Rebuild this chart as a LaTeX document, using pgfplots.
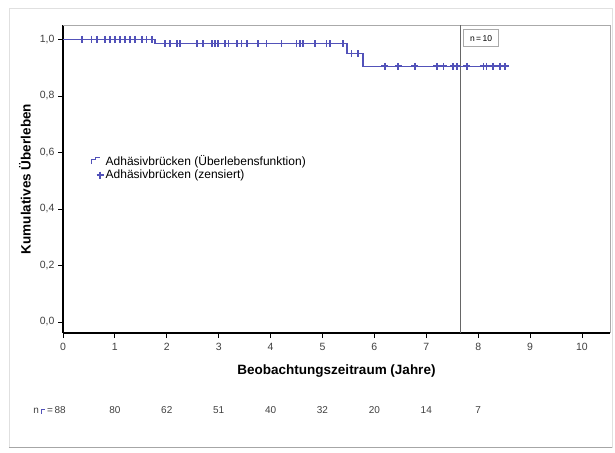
\documentclass[border=0pt]{standalone}
\usepackage{pgfplots}
\pgfplotsset{compat=1.18}
\usepackage{fontspec}
\setmainfont{Liberation Sans}
\definecolor{curve}{RGB}{82,82,185}
\definecolor{frm}{RGB}{170,170,170}
\newcommand{\fs}[1]{\fontsize{#1}{#1}\selectfont}
\begin{document}
\begin{tikzpicture}
\begin{axis}[
  scale only axis,
  width=547pt, height=308pt,
  xmin=0, xmax=10.54,
  ymin=-0.039, ymax=1.051,
  axis lines*=left,
  axis line style={black, line width=1.1pt},
  xtick={0,1,...,10},
  ytick={0,0.2,0.4,0.6,0.8,1.0},
  tick align=outside,
  major tick length=5pt,
  tick style={black, line width=0.8pt},
  tick label style={font=\fs{10.5}, text=black!75},
  /pgf/number format/assume math mode=true,
  yticklabel style={/pgf/number format/.cd, fixed, fixed zerofill, precision=1, use comma},
  xticklabel style={yshift=-2pt},
  xlabel={\bfseries Beobachtungszeitraum (Jahre)},
  ylabel={\bfseries Kumulatives Überleben},
  xlabel style={at={(axis description cs:0.5,-0.123)}, anchor=center, font=\fs{13.5}},
  ylabel style={at={(axis description cs:-0.0695,0.5)}, anchor=center, font=\fs{13.5}},
  clip=false,
  legend style={at={(rel axis cs:0.049,0.587)}, anchor=north west, draw=none, fill=none,
    font=\fs{12}, row sep=-1pt, inner sep=1pt, legend cell align=left},
]
% frame top/right
\addplot[frm, line width=0.6pt, forget plot] coordinates {(0,1.051) (10.54,1.051) (10.54,-0.039)};
% vertical reference line
\addplot[black!60, line width=0.8pt, forget plot] coordinates {(7.65,-0.039) (7.65,1.051)};
\node[draw=frm, line width=0.9pt, fill=white, anchor=north west, font=\fs{8.5}, inner sep=2pt, minimum width=35pt, minimum height=17pt] at (axis cs:7.71,1.036) {n\,=\,10};
% survival function
\addplot[curve, line width=1.5pt, const plot,
  legend image code/.code={\draw[curve, line width=1.3pt] (0pt,-3pt) -- (0pt,2pt) -- (4pt,2pt) -- (4pt,4pt) -- (8pt,4pt);}]
  coordinates {(0,1) (1.77,0.985) (5.47,0.95) (5.78,0.905) (8.55,0.905)};
\addlegendentry{Adhäsivbrücken (Überlebensfunktion)}
% censored
\addplot[curve, only marks, mark=+, mark size=3.5pt, line width=1.7pt]
  coordinates {
  (0.36,1) (0.55,1) (0.65,1) (0.81,1) (0.91,1) (1.0,1) (1.1,1) (1.19,1) (1.29,1) (1.39,1) (1.52,1) (1.61,1) (1.71,1)
  (1.97,0.985) (2.06,0.985) (2.19,0.985) (2.25,0.985) (2.58,0.985) (2.7,0.985) (2.87,0.985) (2.93,0.985) (2.99,0.985)
  (3.12,0.985) (3.19,0.985) (3.35,0.985) (3.44,0.985) (3.54,0.985) (3.76,0.985) (3.92,0.985) (4.21,0.985) (4.5,0.985)
  (4.57,0.985) (4.63,0.985) (4.86,0.985) (5.08,0.985) (5.14,0.985) (5.4,0.985)
  (5.56,0.95) (5.68,0.95)
  (6.2,0.905) (6.46,0.905) (6.78,0.905) (7.2,0.905) (7.33,0.905) (7.52,0.905) (7.59,0.905) (7.78,0.905)
  (8.1,0.905) (8.16,0.905) (8.29,0.905) (8.42,0.905) (8.52,0.905)};
\addlegendentry{Adhäsivbrücken (zensiert)}
% numbers at risk
\node[anchor=east, font=\fs{10}, text=black!75] at (axis cs:0.12,-0.311) {n\,\textcolor{curve}{\rule[-0.5pt]{0.8pt}{4.5pt}\rule[3.2pt]{4pt}{0.8pt}}\,=\,88};
\node[font=\fs{10}, text=black!75] at (axis cs:1,-0.311) {80};
\node[font=\fs{10}, text=black!75] at (axis cs:2,-0.311) {62};
\node[font=\fs{10}, text=black!75] at (axis cs:3,-0.311) {51};
\node[font=\fs{10}, text=black!75] at (axis cs:4,-0.311) {40};
\node[font=\fs{10}, text=black!75] at (axis cs:5,-0.311) {32};
\node[font=\fs{10}, text=black!75] at (axis cs:6,-0.311) {20};
\node[font=\fs{10}, text=black!75] at (axis cs:7,-0.311) {14};
\node[font=\fs{10}, text=black!75] at (axis cs:8,-0.311) {7};
\end{axis}
% card border
\draw[black!12, line width=0.8pt] (-54pt,-114pt) rectangle (549pt,325pt);
\draw[black!35, line width=1.2pt] (-54pt,-114.5pt) -- (549pt,-114.5pt);
\path (-63pt,-119pt) rectangle (552pt,333pt);
\end{tikzpicture}
\end{document}
